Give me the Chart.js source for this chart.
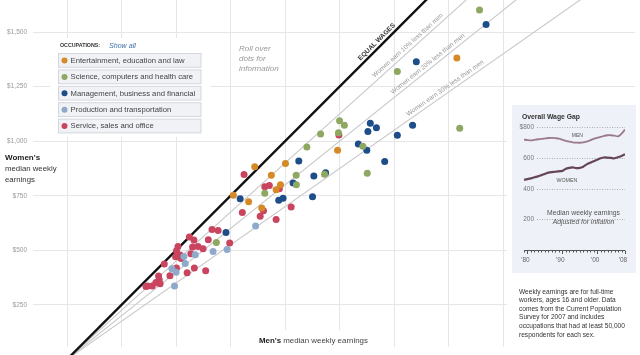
<!DOCTYPE html>
<html>
<head>
<meta charset="utf-8">
<script src="https://cdn.jsdelivr.net/npm/chart.js@4"></script>
<style>
  html, body { margin: 0; padding: 0; background: #fff; }
  #wrap { position: relative; width: 640px; height: 355px; }
  #gap { position: absolute; left: 512px; top: 105px; width: 124px; height: 168px; background: #eef1f7; }
</style>
</head>
<body>
<div id="wrap">
  <canvas id="scatter" width="640" height="355"></canvas>
  <div id="gap"><canvas id="gapChart" width="124" height="168"></canvas></div>
</div>
<script>
// Occupation groups and their dot colours
const occupations = [
  'Entertainment, education and law',
  'Science, computers and health care',
  'Management, business and financial',
  'Production and transportation',
  'Service, sales and office'
];
const occColors = ['#d68a27', '#8ea862', '#1d4e8a', '#8eaaca', '#c9455f'];

// [men, women] median weekly earnings, 2007
const entertainment = [[861, 883], [1002, 898], [937, 844], [979, 800], [959, 778], [763, 752],
  [833, 722], [893, 694], [1241, 959], [1788, 1381]];
const science = [[1051, 844], [1181, 849], [907, 761], [1052, 801], [685, 536], [1250, 1094],
  [1272, 1073], [1163, 1033], [1245, 1039], [1100, 973], [1357, 977], [1377, 853], [1801, 1059],
  [1515, 1319], [1892, 1601]];
const management = [[729, 582], [1063, 909], [1132, 841], [1186, 855], [1037, 809], [794, 736],
  [971, 729], [991, 739], [1126, 745], [1391, 1082], [1419, 1062], [1380, 1045], [1585, 1073],
  [1515, 1027], [1336, 987], [1375, 958], [1457, 907], [1602, 1364], [1922, 1535]];
const production = [[588, 480], [670, 495], [734, 504], [536, 472], [542, 440], [481, 415],
  [500, 400], [493, 336], [865, 612]];
const service = [[812, 847], [907, 791], [928, 797], [974, 782], [1028, 699], [901, 681], [804, 673],
  [886, 656], [959, 641], [1247, 1028], [665, 595], [693, 591], [648, 549], [746, 534], [561, 561],
  [582, 547], [509, 517], [576, 515], [601, 518], [624, 507], [502, 498], [519, 478], [568, 484],
  [498, 471], [523, 463], [446, 437], [502, 419], [584, 419], [636, 406], [551, 397], [420, 382],
  [472, 383], [423, 365], [408, 352], [427, 347], [369, 337], [362, 334], [391, 337], [414, 351]];

const xTicks = [0, 250, 500, 750, 1000, 1250, 1500, 1750, 2000];
const yTicks = [250, 500, 750, 1000, 1250, 1500];

// reference lines: women's pay as a share of men's
const wageRatios = [1, 0.9, 0.8, 0.7];
const ratioLabels = ['EQUAL WAGES', 'Women earn 10% less than men', 'Women earn 20% less than men', 'Women earn 30% less than men'];
const ratioLabelAt = [1438, 1579, 1670, 1748];

// overall wage gap inset, inflation adjusted
const years = [1979, 1980, 1981, 1982, 1983, 1984, 1985, 1986, 1987, 1988, 1989, 1990, 1991, 1992, 1993,
  1994, 1995, 1996, 1997, 1998, 1999, 2000, 2001, 2002, 2003, 2004, 2005, 2006, 2007, 2008];
const menOverall = [720, 716, 714, 718, 722, 724, 727, 730, 731, 729, 726, 719, 712, 706, 702,
  700, 699, 701, 707, 715, 724, 731, 737, 744, 748, 748, 745, 741, 758, 785];
const womenOverall = [458, 462, 467, 474, 480, 488, 496, 504, 508, 510, 513, 516, 529, 535, 538,
  534, 535, 543, 558, 569, 579, 588, 598, 603, 602, 600, 598, 605, 613, 624];
const gapTicks = [200, 400, 600, 800];
const gapYearLabels = [1980, 1990, 2000, 2008];

const notes = ['Weekly earnings are for full-time', 'workers, ages 16 and older. Data',
  'comes from the Current Population', 'Survey for 2007 and includes',
  'occupations that had at least 50,000', 'respondents for each sex.'];

const FONT = '"Liberation Sans", Arial, sans-serif';
const GRID = '#e6e6e6';
Chart.defaults.font.family = FONT;

const decorations = {
  id: 'decorations',
  beforeDatasetsDraw(chart) {
    // carry the vertical grid up to the top edge
    const ctx = chart.ctx, xs = chart.scales.x;
    ctx.save();
    ctx.strokeStyle = GRID;
    ctx.lineWidth = 1;
    ctx.beginPath();
    xTicks.forEach(v => {
      const px = Math.round(xs.getPixelForValue(v) - 0.5) + 0.5;
      ctx.moveTo(px, 0);
      ctx.lineTo(px, chart.chartArea.top);
    });
    ctx.stroke();
    ctx.restore();
  },
  afterDraw(chart) {
    const ctx = chart.ctx;
    const xs = chart.scales.x, ys = chart.scales.y;
    ctx.save();

    // labels along the ratio lines
    wageRatios.forEach((r, i) => {
      const m = ratioLabelAt[i];
      const px = xs.getPixelForValue(m), py = ys.getPixelForValue(m * r);
      const ang = Math.atan2(ys.getPixelForValue((m + 100) * r) - py, xs.getPixelForValue(m + 100) - px);
      ctx.save();
      ctx.translate(px, py);
      ctx.rotate(ang);
      ctx.textAlign = 'center';
      ctx.textBaseline = 'bottom';
      ctx.font = i === 0 ? 'bold 6.6px ' + FONT : '6.4px ' + FONT;
      ctx.fillStyle = i === 0 ? '#333' : '#999';
      ctx.fillText(ratioLabels[i], 0, -2);
      ctx.restore();
    });

    // white panels
    ctx.fillStyle = '#fff';
    ctx.fillRect(50, 38, 160, 99);
    ctx.fillRect(507, 95, 133, 260);
    ctx.fillRect(255, 330, 117, 25);

    // occupations legend
    ctx.textBaseline = 'middle';
    ctx.textAlign = 'left';
    ctx.font = 'bold 5.3px ' + FONT;
    ctx.fillStyle = '#333';
    ctx.fillText('OCCUPATIONS:', 60, 46);
    ctx.font = 'italic 7.1px ' + FONT;
    ctx.fillStyle = '#3b6ea8';
    ctx.fillText('Show all', 109, 46);
    occupations.forEach((name, i) => {
      const top = 53.5 + i * 16.4;
      ctx.fillStyle = '#f0f2f5';
      ctx.strokeStyle = '#d3d7dd';
      ctx.lineWidth = 1;
      ctx.fillRect(58.5, top, 142.5, 13.8);
      ctx.strokeRect(58.5, top, 142.5, 13.8);
      ctx.beginPath();
      ctx.arc(64.5, top + 7, 3, 0, Math.PI * 2);
      ctx.fillStyle = occColors[i];
      ctx.fill();
      ctx.fillStyle = '#444';
      ctx.font = '7.7px ' + FONT;
      ctx.fillText(name, 70.5, top + 7.2);
    });

    // roll over hint
    ctx.font = 'italic 8px ' + FONT;
    ctx.fillStyle = '#999';
    ['Roll over', 'dots for', 'information'].forEach((t, i) => ctx.fillText(t, 239, 48.5 + i * 10.3));

    // axis titles
    ctx.fillStyle = '#222';
    ctx.font = 'bold 8px ' + FONT;
    ctx.fillText("Women's", 5, 158);
    ctx.fillStyle = '#333';
    ctx.font = '7.8px ' + FONT;
    ctx.fillText('median weekly', 5, 169);
    ctx.fillText('earnings', 5, 180);

    ctx.font = 'bold 7.9px ' + FONT;
    ctx.fillStyle = '#222';
    ctx.fillText("Men's", 259, 340.7);
    const w = ctx.measureText("Men's").width;
    ctx.font = '7.9px ' + FONT;
    ctx.fillStyle = '#444';
    ctx.fillText(' median weekly earnings', 259 + w, 340.7);

    // source note
    ctx.font = '6.6px ' + FONT;
    ctx.fillStyle = '#333';
    notes.forEach((t, i) => ctx.fillText(t, 519, 291.7 + i * 8.65));

    ctx.restore();
  }
};

const scatterSets = [entertainment, science, management, production, service].map((pts, i) => ({
  label: occupations[i],
  data: pts.map(p => ({ x: p[0], y: p[1] })),
  backgroundColor: occColors[i],
  borderWidth: 0,
  pointRadius: 3.5,
  order: 1
}));

const lineSets = wageRatios.map((r, i) => ({
  label: ratioLabels[i],
  data: [{ x: 0, y: 0 }, { x: 2600, y: 2600 * r }],
  showLine: true,
  borderColor: i === 0 ? '#111' : '#c9c9c9',
  borderWidth: i === 0 ? 2.4 : 1.1,
  pointRadius: 0,
  clip: { left: 0, top: 8, right: 0, bottom: 12 },
  order: 2
}));

new Chart(document.getElementById('scatter'), {
  type: 'scatter',
  data: { datasets: scatterSets.concat(lineSets) },
  options: {
    responsive: false,
    animation: false,
    layout: { padding: { left: 0, right: 5, top: 0, bottom: 8 } },
    plugins: { legend: { display: false }, tooltip: { enabled: false } },
    scales: {
      x: {
        type: 'linear',
        min: -156,
        max: 2605,
        afterBuildTicks: s => { s.ticks = xTicks.map(v => ({ value: v })); },
        afterFit: s => { s.height = 0; s.paddingLeft = 0; s.paddingRight = 0; },
        ticks: { display: false },
        grid: { color: GRID, drawTicks: false },
        border: { display: false }
      },
      y: {
        min: 57,
        max: 1628.7,
        afterBuildTicks: s => { s.ticks = yTicks.map(v => ({ value: v })); },
        afterFit: s => { s.width = 33; s.paddingTop = 0; s.paddingBottom = 0; },
        ticks: {
          padding: 6,
          color: '#999',
          font: { size: 6.5 },
          callback: v => '$' + v.toLocaleString('en-US')
        },
        grid: { color: GRID, drawTicks: false },
        border: { display: false }
      }
    }
  },
  plugins: [decorations]
});

// inset: overall wage gap
const gapDecor = {
  id: 'gapDecor',
  beforeDatasetsDraw(chart) {
    const ctx = chart.ctx;
    const xs = chart.scales.x, ys = chart.scales.y;
    ctx.save();
    ctx.strokeStyle = '#b0b0b0';
    ctx.lineWidth = 1;
    ctx.setLineDash([1, 1.5]);
    ctx.font = '6.5px ' + FONT;
    ctx.fillStyle = '#777';
    ctx.textAlign = 'right';
    ctx.textBaseline = 'middle';
    gapTicks.forEach(v => {
      const py = Math.round(ys.getPixelForValue(v)) + 0.5;
      ctx.beginPath();
      ctx.moveTo(25, py);
      ctx.lineTo(113, py);
      ctx.stroke();
      ctx.fillText(v === 800 ? '$800' : String(v), 22, py);
    });
    ctx.setLineDash([]);

    // year axis
    const base = Math.round(ys.getPixelForValue(0)) + 0.5;
    ctx.strokeStyle = '#555';
    ctx.beginPath();
    ctx.moveTo(xs.getPixelForValue(years[0]), base);
    ctx.lineTo(xs.getPixelForValue(years[years.length - 1]), base);
    years.forEach(yr => {
      const px = Math.round(xs.getPixelForValue(yr)) + 0.5;
      ctx.moveTo(px, base);
      ctx.lineTo(px, base + (gapYearLabels.includes(yr) ? 3.5 : 2));
    });
    ctx.stroke();
    ctx.textAlign = 'center';
    ctx.fillStyle = '#666';
    gapYearLabels.forEach(yr => {
      ctx.fillText("'" + String(yr).slice(2), xs.getPixelForValue(yr) - 2, base + 9.5);
    });
    ctx.restore();
  },
  afterDraw(chart) {
    const ctx = chart.ctx;
    const xs = chart.scales.x, ys = chart.scales.y;
    ctx.save();
    ctx.textBaseline = 'middle';
    ctx.textAlign = 'left';
    ctx.font = 'bold 6.8px ' + FONT;
    ctx.fillStyle = '#333';
    ctx.fillText('Overall Wage Gap', 10, 12);
    ctx.textAlign = 'center';
    ctx.font = '5px ' + FONT;
    ctx.fillStyle = '#555';
    ctx.fillText('MEN', xs.getPixelForValue(1994.3), ys.getPixelForValue(745));
    ctx.font = '5.3px ' + FONT;
    ctx.fillText('WOMEN', xs.getPixelForValue(1991.3), ys.getPixelForValue(450));
    ctx.font = '6.8px ' + FONT;
    ctx.fillText('Median weekly earnings', 71.5, 108.5);
    ctx.font = 'italic 6.8px ' + FONT;
    ctx.fillText('Adjusted for inflation', 71.5, 117);
    ctx.restore();
  }
};

new Chart(document.getElementById('gapChart'), {
  type: 'line',
  data: {
    datasets: [
      {
        label: 'MEN',
        data: years.map((yr, i) => ({ x: yr, y: menOverall[i] })),
        borderColor: '#9a7b8d',
        borderWidth: 1.8,
        pointRadius: 0,
        tension: 0.3
      },
      {
        label: 'WOMEN',
        data: years.map((yr, i) => ({ x: yr, y: womenOverall[i] })),
        borderColor: '#654659',
        borderWidth: 2.2,
        pointRadius: 0,
        tension: 0.3
      }
    ]
  },
  options: {
    responsive: false,
    animation: false,
    layout: { padding: { left: 12, right: 11, top: 10, bottom: 23 } },
    plugins: { legend: { display: false }, tooltip: { enabled: false } },
    scales: {
      x: { type: 'linear', min: 1979, max: 2008, display: false },
      y: { min: 0, max: 880, display: false }
    }
  },
  plugins: [gapDecor]
});
</script>
</body>
</html>
